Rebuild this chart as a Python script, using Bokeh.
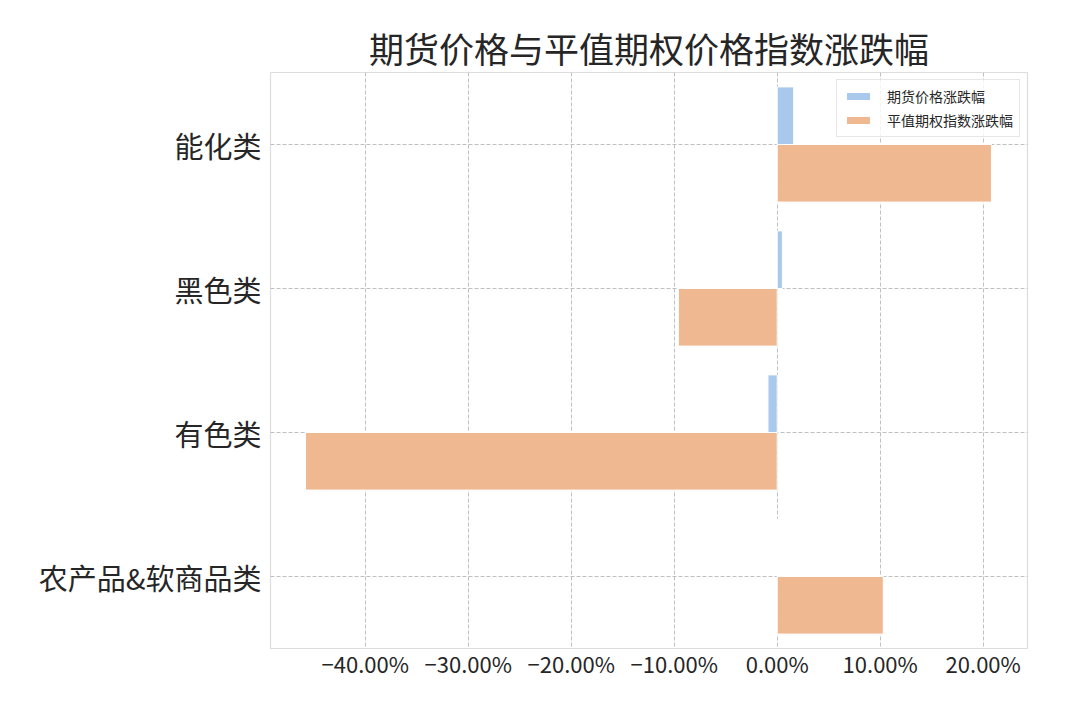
from bokeh.plotting import figure
from bokeh.models import FixedTicker, ColumnDataSource, Legend, LegendItem, Range1d
from bokeh.embed import file_html
from bokeh.resources import INLINE

categories = ["能化类", "黑色类", "有色类", "农产品&软商品类"]
futures_change = [1.6, 0.5, -0.9, 0.02]          # 期货价格涨跌幅 (%)
option_index_change = [20.8, -9.6, -45.8, 10.3]  # 平值期权指数涨跌幅 (%)
x_ticks = [-40, -30, -20, -10, 0, 10, 20]
x_tick_labels = ["−40.00%", "−30.00%", "−20.00%", "−10.00%", "0.00%", "10.00%", "20.00%"]

FONT = "Noto Sans CJK SC"
BLUE = "#a9c9ec"
ORANGE = "#f0b891"

pos = list(range(len(categories)))
src_f = ColumnDataSource(dict(y=[p - 0.2 for p in pos], v=futures_change))
src_o = ColumnDataSource(dict(y=[p + 0.2 for p in pos], v=option_index_change))

p = figure(width=1080, height=720, output_backend="svg", toolbar_location=None,
           x_range=Range1d(-49.2, 24.3), y_range=Range1d(3.5, -0.5),
           min_border_left=270, min_border_right=53, min_border_top=72, min_border_bottom=72)

r1 = p.hbar(y="y", left=0, right="v", height=0.4, source=src_f,
            fill_color=BLUE, line_color="white", line_width=1)
r2 = p.hbar(y="y", left=0, right="v", height=0.4, source=src_o,
            fill_color=ORANGE, line_color="white", line_width=1)

p.title.text = "期货价格与平值期权价格指数涨跌幅"
p.title.align = "center"
p.title.text_font = FONT
p.title.text_font_size = "35px"
p.title.text_font_style = "normal"
p.title.text_color = "#262626"
p.title.standoff = 0

p.xaxis.ticker = FixedTicker(ticks=x_ticks)
p.xaxis.major_label_overrides = {t: l for t, l in zip(x_ticks, x_tick_labels)}
p.yaxis.ticker = FixedTicker(ticks=pos)
p.yaxis.major_label_overrides = {i: c for i, c in zip(pos, categories)}

for ax in (p.xaxis[0], p.yaxis[0]):
    ax.axis_line_color = None
    ax.major_tick_line_color = None
    ax.minor_tick_line_color = None
    ax.major_label_text_font = FONT
    ax.major_label_text_color = "#262626"
p.xaxis.major_label_text_font_size = "22px"
p.xaxis.major_label_standoff = -8
p.yaxis.major_label_text_font_size = "29px"
p.yaxis.major_label_standoff = 3

p.xgrid.grid_line_dash = "4 2"
p.ygrid.grid_line_dash = "4 2"
p.xgrid.grid_line_color = "#b0b0b0"
p.ygrid.grid_line_color = "#b0b0b0"
p.xgrid.grid_line_width = 0.8
p.ygrid.grid_line_width = 0.8

p.outline_line_color = "#dddddd"
p.outline_line_width = 1.2

legend = Legend(items=[LegendItem(label="期货价格涨跌幅", renderers=[r1]),
                       LegendItem(label="平值期权指数涨跌幅", renderers=[r2])],
                location="top_right")
legend.label_text_font = FONT
legend.label_text_font_size = "14px"
legend.label_text_color = "#262626"
legend.glyph_width = 30
legend.glyph_height = 10
legend.label_height = 16
legend.spacing = 4
legend.padding = 6
legend.margin = 7
legend.label_standoff = 14
legend.border_line_color = "#d0d0d0"
legend.background_fill_alpha = 0.8
p.add_layout(legend)

open("out.html", "w").write(file_html(p, INLINE))
